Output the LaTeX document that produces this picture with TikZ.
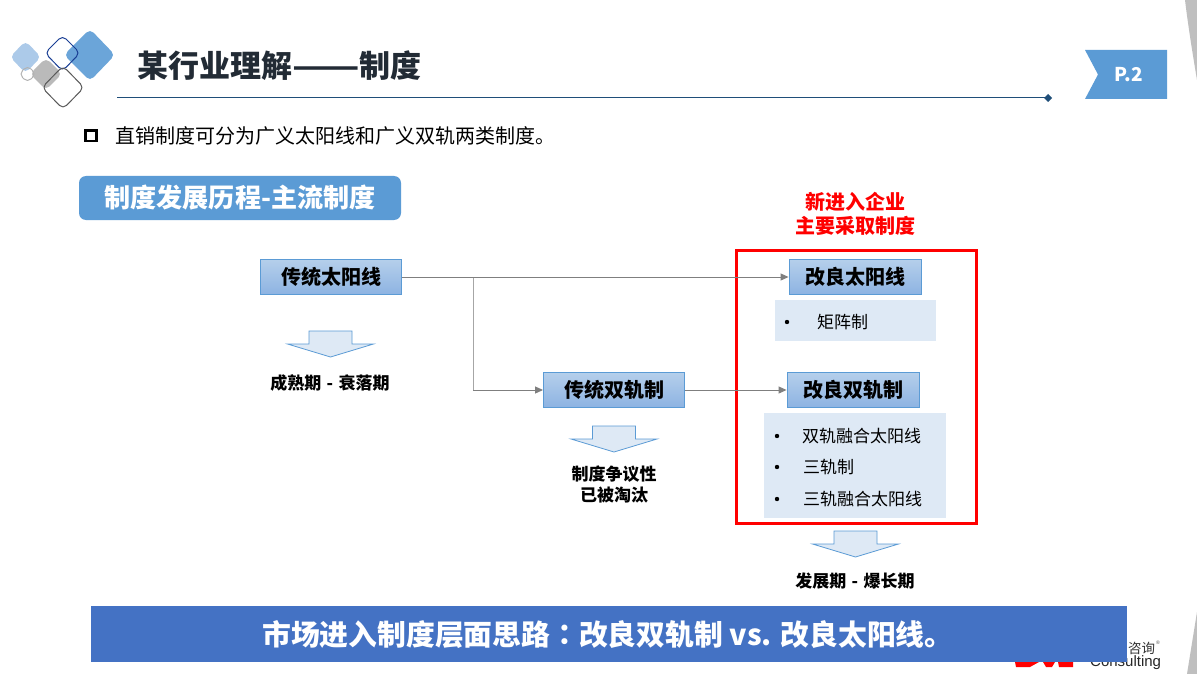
\documentclass[tikz,border=0pt]{standalone}
\usepackage{fontspec}
\usepackage{graphicx}
\setmainfont{Noto Sans CJK SC}
\newfontfamily\latinf{Liberation Sans}
\newfontfamily\tcfont{Noto Sans CJK TC}
\usetikzlibrary{arrows.meta,calc}
\definecolor{boxtop}{HTML}{B5CFEB}
\definecolor{boxbot}{HTML}{8DB3E2}
\definecolor{boxline}{HTML}{5B9BD5}
\definecolor{pale}{HTML}{DEE9F5}
\definecolor{headblue}{HTML}{5B9BD5}
\definecolor{banner}{HTML}{4472C4}
\definecolor{navy}{HTML}{1F4E79}
\definecolor{titlecol}{HTML}{222B35}
\definecolor{conn}{HTML}{7F7F7F}
\tikzset{
  x=1pt,y=-1pt,
  stage/.style={draw=boxline,line width=0.9pt,top color=boxtop,bottom color=boxbot,minimum height=35pt,inner sep=0pt,text=black,font=\fontsize{20}{20}\selectfont\bfseries},
  link/.style={draw=conn,line width=1pt,-{Triangle[length=8pt,width=7pt]}},
  caption/.style={font=\fontsize{17}{21}\selectfont\bfseries,align=center,text=black,inner sep=0pt},
  item/.style={font=\fontsize{17}{17}\selectfont,text=black,anchor=west,inner sep=0pt},
  bul/.style={circle,fill=black,inner sep=0pt,minimum size=4.4pt},
  downarrow/.style={fill=pale,draw=boxline,line width=0.8pt},
}
\newcommand{\downarr}[2]{%
  \draw[downarrow] (#1-21.5,#2) -- (#1+21.5,#2) -- (#1+21.5,#2+13) -- (#1+43,#2+13) -- (#1,#2+26) -- (#1-43,#2+13) -- (#1-21.5,#2+13) -- cycle;}
\begin{document}
\begin{tikzpicture}
\useasboundingbox (0,0) rectangle (1197,674);
\fill[white] (0,0) rectangle (1197,674);
% edge wedges
\fill[black!25] (1185,0) -- (1197,0) -- (1197,80) .. controls (1192,50) and (1188,25) .. cycle;
\fill[black!25] (1197,612) -- (1197,674) -- (1187,674) -- cycle;
% logo
\begin{scope}[rounded corners=5pt]
\fill[headblue!90!white] (90,29) -- (115,55) -- (90,81) -- (64,55) -- cycle;
\fill[boxtop!90!headblue] (25.5,41) -- (41,57) -- (25.5,73) -- (10,57) -- cycle;
\fill[black!27] (46,58) -- (62,74) -- (46,90) -- (30,74) -- cycle;
\draw[draw=navy!80!blue,line width=1pt] (62.5,35.5) -- (80,53) -- (62.5,71) -- (45,53) -- cycle;
\draw[draw=black!65,line width=1pt] (63,66) -- (84,87.5) -- (63,109) -- (42,87.5) -- cycle;
\draw[draw=black!30,line width=1pt] (27.5,65.5) -- (36,74) -- (27.5,82.5) -- (19,74) -- cycle;
\end{scope}
% title
\node[anchor=west,inner sep=0pt,text=titlecol,font=\fontsize{31}{31}\selectfont\bfseries] (title) at (137,66) {某行业理解\scalebox{1.27}[1]{——}制度};
\coordinate (ruleL) at (117,98);
\coordinate (ruleR) at (1048,98);
\draw[navy,line width=1pt] (ruleL) -- (ruleR);
\fill[navy] (1044,98) -- (1048,94) -- (1052,98) -- (1048,102) -- cycle;
% page tab
\fill[headblue] (1085,50) -- (1167,50) -- (1167,99) -- (1085,99) -- (1098,74.5) -- cycle;
\node[text=white,font=\fontsize{19}{19}\selectfont\bfseries,inner sep=0pt] (pg) at (1128.5,75) {P.2};
% bullet line
\draw[black,line width=2.2pt] (85.5,130.5) rectangle (96.5,141);
\node[anchor=west,inner sep=0pt,text=black,font=\fontsize{20}{20}\selectfont] (intro) at (115,135.5) {直销制度可分为广义太阳线和广义双轨两类制度。};
% section head
\node[fill=headblue,rounded corners=7pt,minimum width=322pt,minimum height=44pt,inner sep=0pt,text=white,font=\fontsize{26.1}{26.1}\selectfont\bfseries] (sect) at (240,198) {制度发展历程-主流制度};
% red label and frame
\node[text=red,align=center,font=\fontsize{20}{24.5}\selectfont\bfseries,inner sep=0pt] (newent) at (855,214) {新进入企业\\主要采取制度};
% pale blocks
\fill[pale] (775,300) rectangle (936,341);
\fill[pale] (764,413) rectangle (946,518);
\draw[red,line width=3pt] (736,250) rectangle (976.5,523.5);
% stages
\node[stage,minimum width=141pt] (sun) at (331,277) {传统太阳线};
\node[stage,minimum width=141pt] (dual) at (614,390) {传统双轨制};
\node[stage,minimum width=132pt] (isun) at (855,277) {改良太阳线};
\node[stage,minimum width=132pt] (idual) at (853,390) {改良双轨制};
% connectors
\coordinate (branch) at (473,277.5);
\draw[link] (sun.east) -- (isun.west);
\draw[link] (branch) |- (dual.west);
\draw[black!35,line width=1pt] (branch) -- (branch|-dual.west);
\draw[link] (dual.east) -- (idual.west);
% lists
\node[bul] (b1) at (787,322) {};
\node[item] (t1) at (817,322) {矩阵制};
\node[bul] (b2) at (777,436) {};
\node[item] (t2) at (802,436) {双轨融合太阳线};
\node[bul] (b3) at (777,467) {};
\node[item] (t3) at (803,467) {三轨制};
\node[bul] (b4) at (777,499) {};
\node[item] (t4) at (803,499) {三轨融合太阳线};
% arrows
\downarr{330.5}{331}
\downarr{614}{426}
\downarr{855.5}{531}
\node[caption] (c1) at (330,383) {成熟期\kern1.5pt{} - \kern1.5pt{}衰落期};
\node[caption] (c2) at (614,484) {制度争议性\\已被淘汰};
\node[caption] (c3) at (855,581) {发展期\kern1.5pt{} - \kern1.5pt{}爆长期};
% corner logo
\fill[red] (1015,662) -- (1016,667) -- (1030,667) -- (1039,662) -- cycle;
\fill[red] (1043,662) -- (1046,667) -- (1052,667) -- (1055,662) -- cycle;
\fill[red] (1058,662) -- (1059,667) -- (1073,667) -- (1073,662) -- cycle;
\node[anchor=west,inner sep=0pt,text=black!80,font=\fontsize{13.5}{13.5}\selectfont] (zx) at (1128,648) {咨询};
\node[anchor=west,inner sep=0pt,text=black!70,font=\fontsize{5}{5}\selectfont] (reg) at (1156,643) {\latinf ®};
\node[anchor=west,inner sep=0pt,text=black!85,font=\latinf\fontsize{15}{15}\selectfont] (cons) at (1090,662.5) {Consulting};
% banner
\node[fill=banner,minimum width=1036pt,minimum height=56pt,inner sep=0pt] (bn) at (609,634) {};
\node[anchor=west,inner sep=0pt,text=white,font=\fontsize{28.8}{28.8}\selectfont\bfseries] (bt) at (262,635) {市场进入制度层面思路{\tcfont\bfseries ：}改良双轨制 vs. 改良太阳线。};
\end{tikzpicture}
\end{document}
